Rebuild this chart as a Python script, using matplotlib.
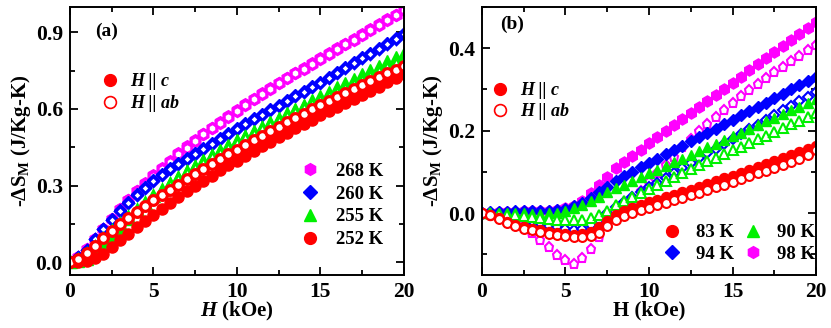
import numpy as np
import matplotlib
matplotlib.use("Agg")
import matplotlib.pyplot as plt
from matplotlib.lines import Line2D
from matplotlib.ticker import MultipleLocator, FormatStrFormatter

plt.rcParams['font.family'] = ['Liberation Serif', 'DejaVu Serif']
plt.rcParams['font.weight'] = 'bold'
plt.rcParams['mathtext.fontset'] = 'custom'
plt.rcParams['mathtext.rm'] = 'Liberation Serif:bold'
plt.rcParams['mathtext.it'] = 'Liberation Serif:italic:bold'
plt.rcParams['mathtext.bf'] = 'Liberation Serif:bold'

# field values (kOe)
H = [0.0, 0.5, 1.0, 1.5, 2.0, 2.5, 3.0, 3.5, 4.0, 4.5, 5.0, 5.5, 6.0, 6.5, 7.0,
     7.5, 8.0, 8.5, 9.0, 9.5, 10.0, 10.5, 11.0, 11.5, 12.0, 12.5, 13.0, 13.5,
     14.0, 14.5, 15.0, 15.5, 16.0, 16.5, 17.0, 17.5, 18.0, 18.5, 19.0, 19.5, 20.0]

# ---- panel (a): 252-268 K ----
a268_c = [0.0, 0.02, 0.05, 0.09, 0.13, 0.17, 0.21, 0.245, 0.28, 0.31, 0.34, 0.37, 0.398,
          0.426, 0.453, 0.479, 0.503, 0.527, 0.55, 0.573, 0.596, 0.619, 0.641, 0.662,
          0.683, 0.703, 0.723, 0.742, 0.761, 0.78, 0.799, 0.818, 0.837, 0.856, 0.875,
          0.894, 0.913, 0.932, 0.951, 0.97, 0.989]
a268_ab = [0.0, 0.02, 0.05, 0.09, 0.13, 0.17, 0.208, 0.243, 0.277, 0.307, 0.336, 0.366,
           0.394, 0.422, 0.449, 0.475, 0.5, 0.524, 0.547, 0.57, 0.593, 0.616, 0.638,
           0.659, 0.68, 0.7, 0.72, 0.739, 0.758, 0.777, 0.796, 0.815, 0.834, 0.853,
           0.872, 0.891, 0.91, 0.929, 0.948, 0.967, 0.986]
a260_c = [0.0, 0.02, 0.048, 0.09, 0.13, 0.167, 0.203, 0.237, 0.268, 0.295, 0.32, 0.345,
          0.367, 0.389, 0.409, 0.429, 0.449, 0.468, 0.487, 0.506, 0.525, 0.544, 0.563,
          0.581, 0.599, 0.617, 0.635, 0.653, 0.671, 0.689, 0.707, 0.726, 0.745, 0.764,
          0.783, 0.802, 0.821, 0.84, 0.859, 0.878, 0.897]
a260_ab = [0.0, 0.02, 0.048, 0.089, 0.128, 0.165, 0.2, 0.233, 0.264, 0.291, 0.316, 0.341,
           0.363, 0.385, 0.405, 0.425, 0.445, 0.464, 0.483, 0.502, 0.521, 0.54, 0.559,
           0.577, 0.595, 0.613, 0.631, 0.649, 0.667, 0.685, 0.703, 0.722, 0.741, 0.76,
           0.779, 0.798, 0.817, 0.836, 0.855, 0.874, 0.893]
a255_c = [0.0, 0.003, 0.012, 0.035, 0.066, 0.1, 0.135, 0.168, 0.2, 0.23, 0.258, 0.284,
          0.309, 0.333, 0.356, 0.378, 0.4, 0.42, 0.44, 0.459, 0.477, 0.495, 0.513,
          0.531, 0.549, 0.566, 0.583, 0.6, 0.617, 0.634, 0.651, 0.668, 0.685, 0.702,
          0.719, 0.736, 0.753, 0.77, 0.787, 0.804, 0.821]
a255_ab = [0.0, 0.01, 0.03, 0.06, 0.09, 0.12, 0.15, 0.178, 0.205, 0.232, 0.258, 0.283,
           0.307, 0.33, 0.352, 0.373, 0.394, 0.414, 0.433, 0.452, 0.472, 0.49, 0.507,
           0.524, 0.541, 0.558, 0.575, 0.591, 0.607, 0.623, 0.639, 0.655, 0.671, 0.687,
           0.703, 0.719, 0.735, 0.751, 0.767, 0.783, 0.799]
a252_c = [0.0, 0.002, 0.006, 0.015, 0.033, 0.06, 0.087, 0.111, 0.136, 0.161, 0.185, 0.208,
          0.231, 0.254, 0.277, 0.298, 0.319, 0.339, 0.359, 0.379, 0.398, 0.417, 0.436,
          0.454, 0.472, 0.49, 0.507, 0.524, 0.541, 0.558, 0.575, 0.592, 0.608, 0.624,
          0.64, 0.656, 0.672, 0.688, 0.704, 0.72, 0.736]
a252_ab = [0.0, 0.012, 0.035, 0.064, 0.094, 0.122, 0.149, 0.174, 0.198, 0.221, 0.243,
           0.264, 0.284, 0.304, 0.324, 0.344, 0.364, 0.384, 0.403, 0.422, 0.441, 0.46,
           0.478, 0.496, 0.514, 0.531, 0.548, 0.565, 0.582, 0.599, 0.616, 0.632, 0.648,
           0.664, 0.68, 0.695, 0.71, 0.725, 0.74, 0.754, 0.768]

# ---- panel (b): 83-98 K ----
b98_c = [0.0, 0.001, 0.002, 0.002, 0.003, 0.004, 0.004, 0.005, 0.006, 0.008, 0.011,
         0.018, 0.03, 0.048, 0.068, 0.088, 0.108, 0.124, 0.139, 0.154, 0.169, 0.184,
         0.198, 0.213, 0.228, 0.243, 0.257, 0.272, 0.287, 0.302, 0.316, 0.331, 0.346,
         0.361, 0.375, 0.39, 0.405, 0.42, 0.434, 0.449, 0.463]
b98_ab = [0.0, -0.001, -0.005, -0.011, -0.018, -0.03, -0.048, -0.065, -0.083, -0.101,
          -0.115, -0.123, -0.11, -0.088, -0.058, -0.027, -0.004, 0.014, 0.032, 0.053,
          0.076, 0.097, 0.117, 0.137, 0.16, 0.179, 0.198, 0.215, 0.233, 0.251, 0.267,
          0.283, 0.298, 0.313, 0.328, 0.342, 0.355, 0.368, 0.381, 0.395, 0.408]
b94_c = [0.0, 0.002, 0.003, 0.003, 0.004, 0.004, 0.004, 0.005, 0.006, 0.007, 0.01,
         0.016, 0.025, 0.036, 0.05, 0.063, 0.077, 0.089, 0.1, 0.111, 0.121, 0.132,
         0.142, 0.153, 0.163, 0.174, 0.184, 0.195, 0.205, 0.216, 0.226, 0.237, 0.247,
         0.258, 0.268, 0.279, 0.289, 0.3, 0.31, 0.32, 0.33]
b94_ab = [0.0, -0.001, -0.003, -0.006, -0.009, -0.013, -0.019, -0.025, -0.031, -0.035,
          -0.038, -0.041, -0.038, -0.03, -0.016, 0.0, 0.014, 0.026, 0.038, 0.05, 0.062,
          0.074, 0.086, 0.098, 0.11, 0.121, 0.133, 0.145, 0.156, 0.168, 0.18, 0.191,
          0.203, 0.214, 0.226, 0.237, 0.249, 0.26, 0.271, 0.282, 0.293]
b90_c = [0.0, 0.001, 0.001, 0.001, 0.0, -0.001, -0.002, -0.002, -0.001, 0.001, 0.005,
         0.012, 0.02, 0.03, 0.04, 0.05, 0.06, 0.069, 0.078, 0.087, 0.096, 0.105, 0.114,
         0.123, 0.132, 0.141, 0.15, 0.159, 0.168, 0.177, 0.186, 0.195, 0.204, 0.213,
         0.222, 0.231, 0.24, 0.249, 0.258, 0.267, 0.276]
b90_ab = [0.0, 0.0, -0.002, -0.004, -0.006, -0.008, -0.01, -0.013, -0.015, -0.017,
          -0.018, -0.017, -0.016, -0.013, -0.006, 0.006, 0.019, 0.029, 0.039, 0.049,
          0.059, 0.069, 0.078, 0.088, 0.097, 0.107, 0.116, 0.125, 0.134, 0.143, 0.152,
          0.161, 0.17, 0.179, 0.188, 0.197, 0.206, 0.215, 0.224, 0.233, 0.242]
b83_c = [0.0, -0.004, -0.012, -0.022, -0.029, -0.034, -0.038, -0.042, -0.046, -0.049,
         -0.052, -0.054, -0.052, -0.046, -0.033, -0.019, -0.006, 0.004, 0.012, 0.019,
         0.026, 0.032, 0.038, 0.044, 0.05, 0.056, 0.063, 0.07, 0.077, 0.084, 0.091,
         0.098, 0.105, 0.112, 0.119, 0.126, 0.133, 0.14, 0.147, 0.155, 0.163]
b83_ab = [0.0, -0.005, -0.014, -0.025, -0.032, -0.038, -0.042, -0.046, -0.05, -0.053,
          -0.056, -0.058, -0.058, -0.055, -0.048, -0.032, -0.018, -0.008, 0.0, 0.007,
          0.013, 0.019, 0.025, 0.031, 0.037, 0.043, 0.049, 0.056, 0.062, 0.069, 0.075,
          0.082, 0.089, 0.096, 0.103, 0.11, 0.117, 0.124, 0.132, 0.14, 0.152]

RED, GREEN, BLUE, MAG = '#ff0000', '#00f000', '#0000ff', '#ff00ff'

fig = plt.figure(figsize=(8.31, 3.28), dpi=100)
ax1 = fig.add_axes([0.084, 0.162, 0.402, 0.817])
ax2 = fig.add_axes([0.580, 0.162, 0.402, 0.817])


def pts(ax, y, m, c, filled, ms=7.0, mew=2.3):
    if filled:
        ax.plot(H, y, ls='none', marker=m, ms=ms, color=c, mec=c)
    else:
        ax.plot(H, y, ls='none', marker=m, ms=ms, mfc='white', mec=c, mew=mew)


# panel (a)
pts(ax1, a268_c, 'h', MAG, True, 8.4)
pts(ax1, a268_ab, 'h', MAG, False, 7.2)
pts(ax1, a260_c, 'D', BLUE, True, 6.3)
pts(ax1, a260_ab, 'D', BLUE, False, 5.6)
pts(ax1, a255_c, '^', GREEN, True, 8.0)
pts(ax1, a255_ab, '^', GREEN, False, 7.0)
pts(ax1, a252_c, 'o', RED, True, 8.0)
pts(ax1, a252_ab, 'o', RED, False, 7.0)

# panel (b)
pts(ax2, b98_c, 'h', MAG, True, 8.0)
pts(ax2, b98_ab, 'p', MAG, False, 6.8, 1.5)
pts(ax2, b94_c, 'D', BLUE, True, 6.2)
pts(ax2, b94_ab, 'D', BLUE, False, 5.4, 1.5)
pts(ax2, b90_c, '^', GREEN, True, 7.6)
pts(ax2, b90_ab, '^', GREEN, False, 6.8, 1.5)
pts(ax2, b83_c, 'o', RED, True, 7.2)
pts(ax2, b83_ab, 'o', RED, False, 6.4, 1.5)

for ax in (ax1, ax2):
    ax.set_xlim(0, 20)
    ax.xaxis.set_major_locator(MultipleLocator(5))
    ax.xaxis.set_minor_locator(MultipleLocator(2.5))
    ax.tick_params(which='both', direction='in', top=True, right=True, width=1.3)
    ax.tick_params(which='major', length=6, labelsize=15.5, pad=5)
    ax.tick_params(which='minor', length=3.5)
    for s in ax.spines.values():
        s.set_linewidth(1.4)
    ax.set_ylabel('-ΔS$_\\mathregular{M}$ (J/Kg-K)', fontsize=15, fontweight='bold',
                  labelpad=2)

ax1.set_ylim(-0.05, 1.0)
ax1.yaxis.set_major_locator(MultipleLocator(0.3))
ax1.yaxis.set_minor_locator(MultipleLocator(0.15))
ax1.yaxis.set_major_formatter(FormatStrFormatter('%.1f'))
ax1.set_xlabel('$H$ (kOe)', fontsize=15, fontweight='bold', labelpad=-1)

ax2.set_ylim(-0.15, 0.5)
ax2.yaxis.set_major_locator(MultipleLocator(0.2))
ax2.yaxis.set_minor_locator(MultipleLocator(0.1))
ax2.yaxis.set_major_formatter(FormatStrFormatter('%.1f'))
ax2.set_xlabel('H (kOe)', fontsize=15, fontweight='bold', labelpad=-1)

for ax in (ax1, ax2):
    for lbl in ax.get_xticklabels() + ax.get_yticklabels():
        lbl.set_fontweight('bold')

ax1.text(0.075, 0.907, '(a)', transform=ax1.transAxes, fontsize=14, fontweight='bold',
         va='center')
ax2.text(0.054, 0.933, '(b)', transform=ax2.transAxes, fontsize=14, fontweight='bold',
         va='center')

# orientation legends
dir_handles = [Line2D([], [], ls='none', marker='o', ms=8.5, color=RED),
               Line2D([], [], ls='none', marker='o', ms=8.5, mfc='white', mec=RED, mew=1.2)]
dir_labels = ['H || c', 'H || ab']
for ax, x0, y0 in ((ax1, 0.093, 0.752), (ax2, 0.027, 0.72)):
    leg = ax.legend(dir_handles, dir_labels, loc='upper left', bbox_to_anchor=(x0, y0),
                    frameon=False, borderaxespad=0, borderpad=0, handlelength=1.0,
                    handletextpad=0.6, labelspacing=0.25,
                    prop={'family': 'Liberation Serif', 'style': 'italic',
                          'weight': 'bold', 'size': 13})
    ax.add_artist(leg)

# temperature legends
temps_a = ['268 K', '260 K', '255 K', '252 K']
hand_a = [Line2D([], [], ls='none', marker='h', ms=8.5, color=MAG),
          Line2D([], [], ls='none', marker='D', ms=7, color=BLUE),
          Line2D([], [], ls='none', marker='^', ms=8.5, color=GREEN),
          Line2D([], [], ls='none', marker='o', ms=8.5, color=RED)]
ax1.legend(hand_a, temps_a, loc='upper left', bbox_to_anchor=(0.69, 0.418),
           frameon=False, borderaxespad=0, borderpad=0, handlelength=1.0,
           handletextpad=0.9, labelspacing=0.3,
           prop={'weight': 'bold', 'size': 13.5})

temps_b = ['83 K', '94 K', '90 K', '98 K']
hand_b = [Line2D([], [], ls='none', marker='o', ms=8.5, color=RED),
          Line2D([], [], ls='none', marker='D', ms=7, color=BLUE),
          Line2D([], [], ls='none', marker='^', ms=8.5, color=GREEN),
          Line2D([], [], ls='none', marker='h', ms=8.5, color=MAG)]
ax2.legend(hand_b, temps_b, loc='upper left', bbox_to_anchor=(0.541, 0.19),
           ncol=2, frameon=False, borderaxespad=0, borderpad=0, handlelength=1.0,
           handletextpad=0.75, labelspacing=0.25, columnspacing=0.55,
           prop={'weight': 'bold', 'size': 13.5})

fig.savefig('out.png', dpi=100)
